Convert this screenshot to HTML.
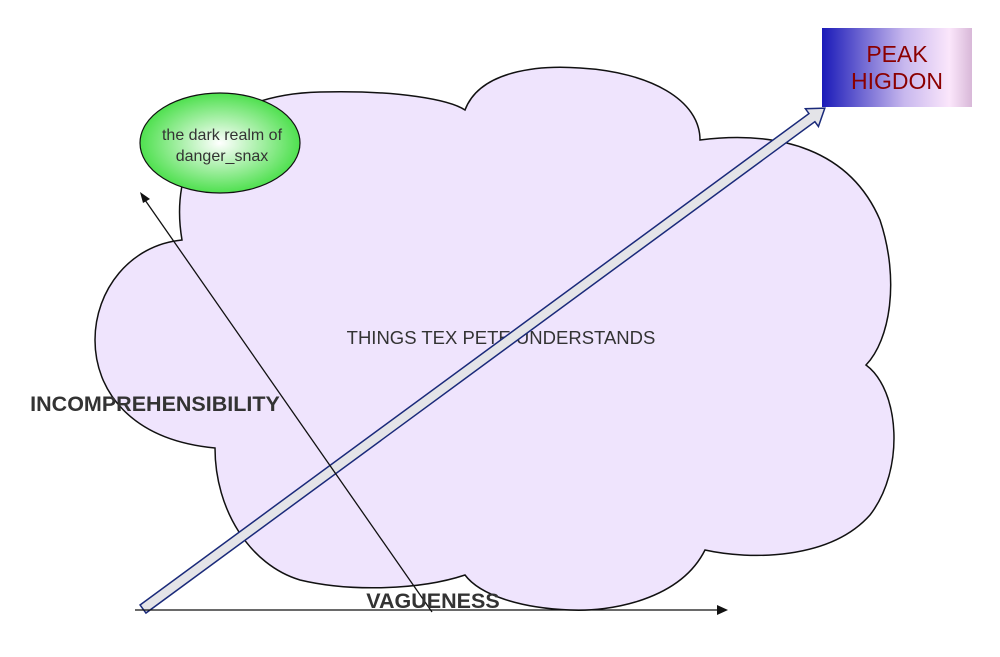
<!DOCTYPE html>
<html><head><meta charset="utf-8"><style>
html,body{margin:0;padding:0;background:#fff;}
svg{display:block;font-family:"Liberation Sans",sans-serif;}
</style></head><body>
<svg width="1000" height="657" viewBox="0 0 1000 657" xmlns="http://www.w3.org/2000/svg">
<defs>
<radialGradient id="g" cx="50%" cy="50%" r="50%">
<stop offset="0" stop-color="#ffffff"/><stop offset="1" stop-color="#4fe04f"/>
</radialGradient>
<linearGradient id="b" x1="0" y1="0" x2="1" y2="0">
<stop offset="0" stop-color="#1a1ab8"/><stop offset="0.55" stop-color="#c8b8ee"/><stop offset="0.85" stop-color="#fbe6fb"/><stop offset="1" stop-color="#d8b8d8"/>
</linearGradient>
</defs>
<path d="M215,448 C130,440 95,390 95,340 C95,290 130,245 182,240 C170,170 200,95 320,92 C400,90 450,100 465,110 C480,70 540,65 580,68 C650,72 700,100 700,140 C780,130 850,150 880,220 C900,280 890,340 866,365 C900,390 905,470 870,515 C830,560 750,560 705,550 C680,600 610,612 570,610 C520,608 480,595 465,575 C420,590 350,592 300,580 C250,565 215,510 215,448 Z" fill="#efe4fd" stroke="#111" stroke-width="1.5"/>
<text x="501" y="344" font-size="18.5" fill="#333" text-anchor="middle">THINGS TEX PETE UNDERSTANDS</text>
<ellipse cx="220" cy="143" rx="80" ry="50" fill="url(#g)" stroke="#111" stroke-width="1.2"/>
<text x="222" y="140" font-size="16" fill="#333" text-anchor="middle">the dark realm of</text>
<text x="222" y="161" font-size="16" fill="#333" text-anchor="middle">danger_snax</text>
<rect x="822" y="28" width="150" height="79" fill="url(#b)"/>
<text x="897" y="62" font-size="23" fill="#8b0000" text-anchor="middle">PEAK</text>
<text x="897" y="89" font-size="23" fill="#8b0000" text-anchor="middle">HIGDON</text>
<g transform="translate(143,609) rotate(-36.3)">
<polygon points="0,-5 830,-5 830,-11 846,0 830,11 830,5 0,5" fill="#e4e4e8" stroke="#1a2a7a" stroke-width="1.5"/>
</g>
<line x1="432" y1="612" x2="145" y2="200" stroke="#111" stroke-width="1.3"/>
<polygon points="140,192 150,199 143,203" fill="#111"/>
<line x1="135" y1="610" x2="718" y2="610" stroke="#111" stroke-width="1.3"/>
<polygon points="728,610 717,605 717,615" fill="#111"/>
<text x="155" y="411" font-size="21.5" font-weight="bold" fill="#333" text-anchor="middle">INCOMPREHENSIBILITY</text>
<text x="433" y="608" font-size="21.5" font-weight="bold" fill="#333" text-anchor="middle">VAGUENESS</text>
</svg>
</body></html>
